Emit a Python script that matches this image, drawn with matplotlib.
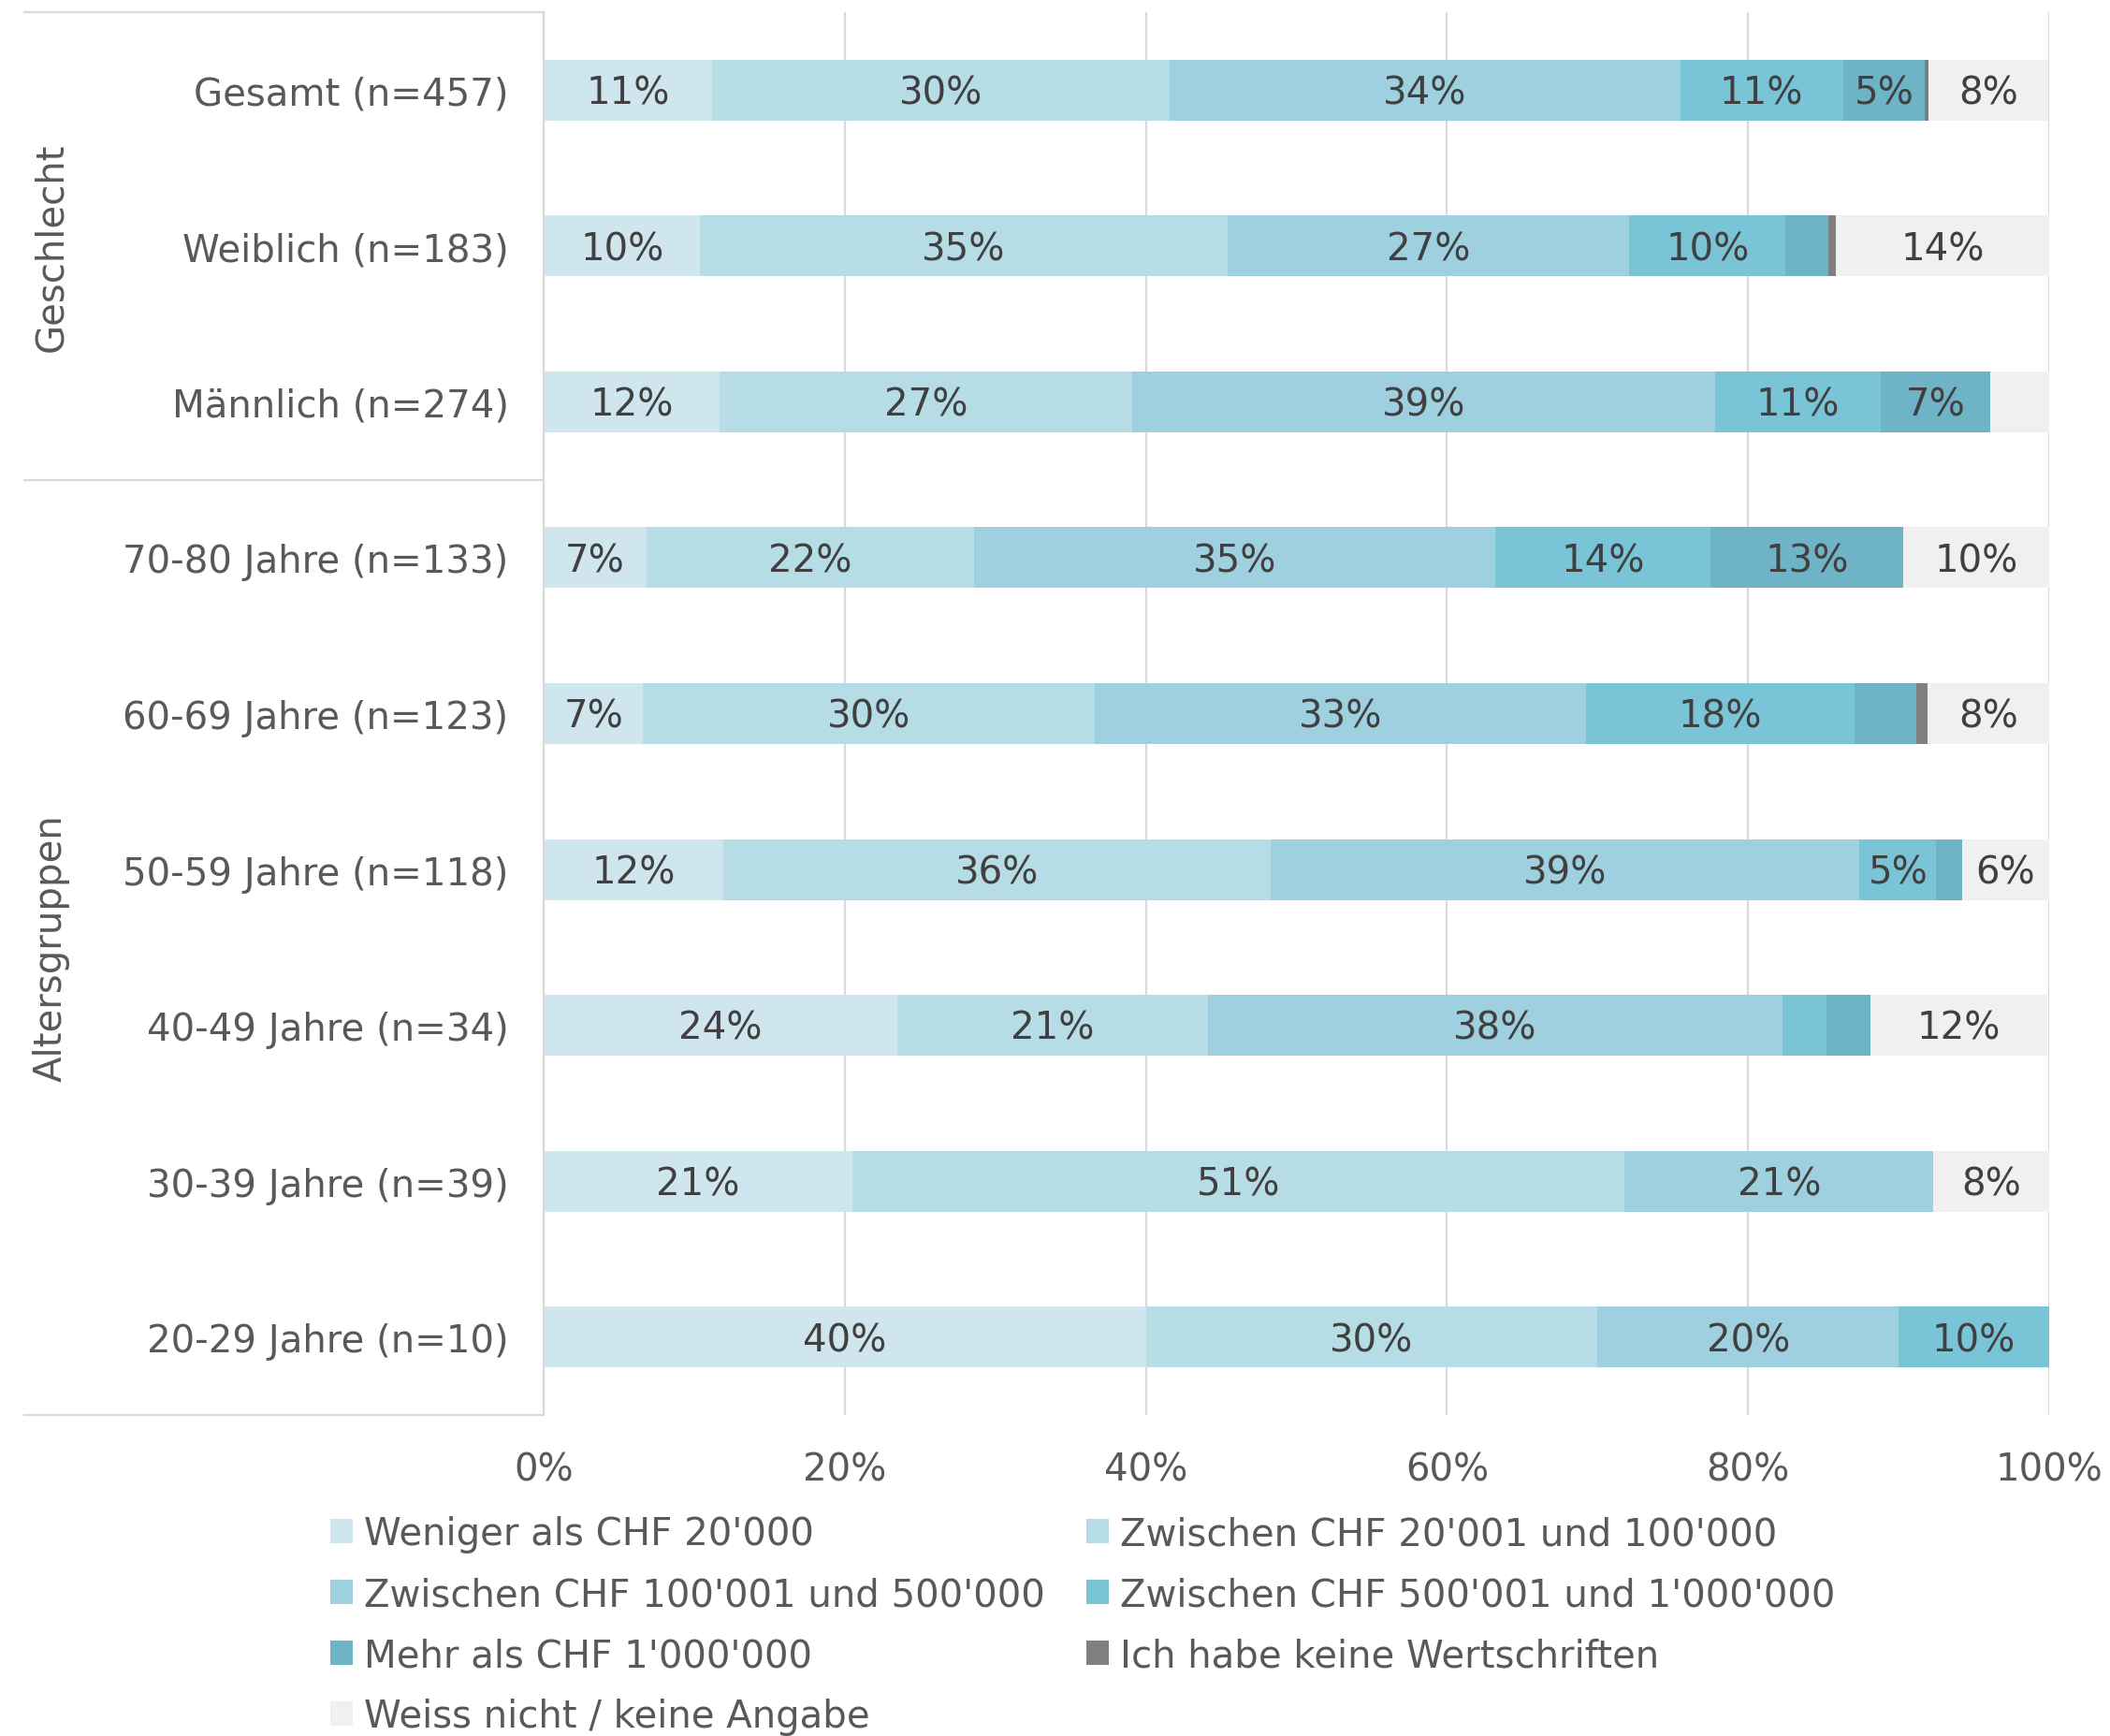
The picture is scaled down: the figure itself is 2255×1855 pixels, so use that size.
import matplotlib
matplotlib.use("Agg")
import matplotlib.pyplot as plt
import numpy as np

# categories, top to bottom
categories = ["Gesamt (n=457)", "Weiblich (n=183)", "Männlich (n=274)",
              "70-80 Jahre (n=133)", "60-69 Jahre (n=123)", "50-59 Jahre (n=118)",
              "40-49 Jahre (n=34)", "30-39 Jahre (n=39)", "20-29 Jahre (n=10)"]

series_names = ["Weniger als CHF 20'000", "Zwischen CHF 20'001 und 100'000",
                "Zwischen CHF 100'001 und 500'000", "Zwischen CHF 500'001 und 1'000'000",
                "Mehr als CHF 1'000'000", "Ich habe keine Wertschriften",
                "Weiss nicht / keine Angabe"]

# shares in percent, one list per series (same order as categories)
weniger_20k = [11.2, 10.4, 11.7, 6.8, 6.6, 11.9, 23.5, 20.5, 40.0]
zw_20k_100k = [30.4, 35.0, 27.4, 21.8, 30.0, 36.4, 20.6, 51.3, 30.0]
zw_100k_500k = [33.9, 26.7, 38.7, 34.6, 32.6, 39.1, 38.2, 20.5, 20.0]
zw_500k_1m = [10.8, 10.4, 11.0, 14.3, 17.85, 5.1, 2.9, 0.0, 10.0]
mehr_1m = [5.45, 2.8, 7.3, 12.8, 4.1, 1.7, 2.9, 0.0, 0.0]
keine_ws = [0.2, 0.55, 0.0, 0.0, 0.75, 0.0, 0.0, 0.0, 0.0]
weiss_nicht = [8.0, 14.15, 3.9, 9.7, 8.1, 5.8, 11.8, 7.7, 0.0]

series = [weniger_20k, zw_20k_100k, zw_100k_500k, zw_500k_1m, mehr_1m, keine_ws, weiss_nicht]
colors = ["#cfe6ee", "#b6dde6", "#9ed0df", "#7ac4d8", "#6eb3c6", "#808080", "#f0f0f0"]

xticks = [0, 20, 40, 60, 80, 100]

txt = "#595959"
lab = "#404040"
grid = "#d9d9d9"
fs = 29

fig = plt.figure(figsize=(22.55, 18.56), dpi=100)
ax = fig.add_axes([0.2577, 0.1848, 0.7135, 0.8077])

y = np.arange(len(categories))
left = np.zeros(len(categories))
handles = []
for name, vals, col in zip(series_names, series, colors):
    vals = np.array(vals)
    bars = ax.barh(y, vals, left=left, height=0.39, color=col, label=name, zorder=2)
    handles.append(bars)
    for yi, (l, v) in enumerate(zip(left, vals)):
        if v >= 4.5:
            ax.text(l + v / 2, yi + 0.02, f"{int(np.floor(v + 0.5))}%", ha="center",
                    va="center", fontsize=fs, color=lab, zorder=3)
    left += vals

ax.set_xlim(0, 100)
ax.set_ylim(len(categories) - 0.5, -0.5)
ax.set_yticks(y)
ax.set_yticklabels(categories, fontsize=fs, color=txt)
ax.set_xticks(xticks)
ax.set_xticklabels([f"{t}%" for t in xticks], fontsize=fs, color=txt)
ax.tick_params(axis="both", length=0)
ax.tick_params(axis="x", pad=28)
ax.tick_params(axis="y", pad=27)
ax.grid(axis="x", color=grid, linewidth=1.6, zorder=0)
for s in ["top", "right", "bottom"]:
    ax.spines[s].set_visible(False)
ax.spines["left"].set_color(grid)
ax.spines["left"].set_linewidth(1.6)

# group separators and group labels
tr = ax.get_yaxis_transform()
for yy in [-0.5, 2.5, 8.5]:
    ax.plot([-0.345, 0], [yy, yy], color=grid, linewidth=1.6, transform=tr, clip_on=False)
ax.text(-0.327, 1, "Geschlecht", rotation=90, ha="center", va="center",
        fontsize=fs, color=txt, transform=tr)
ax.text(-0.327, 5.5, "Altersgruppen", rotation=90, ha="center", va="center",
        fontsize=fs, color=txt, transform=tr)

# legend, row-major order in two columns
order = [0, 2, 4, 6, 1, 3, 5]
leg = fig.legend([handles[i] for i in order], [series_names[i] for i in order],
                 loc="upper left", bbox_to_anchor=(0.1565, 0.127), ncol=2,
                 frameon=False, fontsize=fs, handlelength=0.6, handleheight=0.6,
                 handletextpad=0.3, columnspacing=1.1, labelspacing=0.62,
                 borderpad=0, borderaxespad=0)
for t in leg.get_texts():
    t.set_color(txt)

fig.savefig("out.png", dpi=100)
